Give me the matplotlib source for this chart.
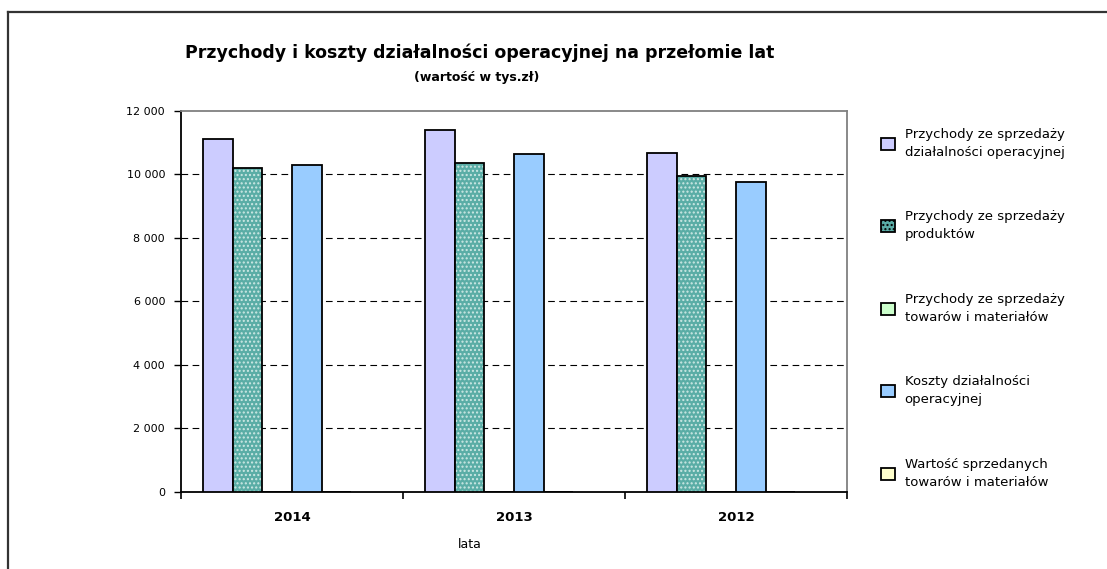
import matplotlib
matplotlib.use("Agg")
import matplotlib.pyplot as plt
from matplotlib.lines import Line2D
from matplotlib.patches import Patch
import numpy as np

plt.rcParams["font.family"] = ["DejaVu Sans"]
plt.rcParams["hatch.linewidth"] = 1.0

## Data (tys. zl)
years = ["2014", "2013", "2012"]
series_names = [
    "Przychody ze sprzedaży\ndziałalności operacyjnej",
    "Przychody ze sprzedaży\nproduktów",
    "Przychody ze sprzedaży\ntowarów i materiałów",
    "Koszty działalności\noperacyjnej",
    "Wartość sprzedanych\ntowarów i materiałów",
]
przychody_operacyjne = [11100, 11390, 10650]
przychody_produkty = [10190, 10360, 9950]
przychody_towary = [0, 0, 0]
koszty_operacyjne = [10280, 10620, 9740]
wartosc_towarow = [0, 0, 0]
yticks = [0, 2000, 4000, 6000, 8000, 10000, 12000]
ytick_labels = ["0", "2 000", "4 000", "6 000", "8 000", "10 000", "12 000"]

series = [przychody_operacyjne, przychody_produkty, przychody_towary,
          koszty_operacyjne, wartosc_towarow]
colours = ["#CCCCFF", "#5AADA6", "#CCFFCC", "#99CCFF", "#FFFFCC"]

fig = plt.figure(figsize=(11.07, 5.69), dpi=100)
ax = fig.add_axes([0.1635, 0.1362, 0.6016, 0.6694])

x = np.arange(len(years))
n_slots = 6
gap = 0.1
width = (1 - 2 * gap) / n_slots

for i, (vals, col) in enumerate(zip(series, colours)):
    pos = x - 0.5 + gap + (i + 0.5) * width
    if i == 1:
        # dotted fill like the excel pattern
        ax.bar(pos, vals, width, color=col, edgecolor="#CDE8E4", hatch="....", linewidth=0, zorder=3)
        ax.bar(pos, vals, width, fill=False, edgecolor="black", linewidth=1.3, zorder=4)
    else:
        ax.bar(pos, vals, width, color=col, edgecolor="black", linewidth=1.3, zorder=3)

ax.set_xlim(-0.5, 2.5)
ax.set_ylim(0, 12000)
ax.set_yticks(yticks)
ax.set_yticklabels(ytick_labels, fontsize=8)
ax.set_xticks(x)
ax.set_xticklabels(years, fontsize=9.5, fontweight="bold")
ax.tick_params(axis="x", length=0, pad=14)
ax.set_xticks(np.arange(len(years) + 1) - 0.5, minor=True)
ax.tick_params(axis="x", which="minor", length=5, width=1.2, direction="out")
ax.tick_params(axis="y", length=5, width=1.0, direction="out", pad=6.5)

for yv in yticks[1:-1]:
    ax.axhline(yv, color="black", linestyle=(0, (6, 4)), linewidth=0.8, zorder=1)

ax.spines["left"].set_linewidth(1.3)
ax.spines["bottom"].set_linewidth(1.3)
ax.spines["top"].set_color("#808080")
ax.spines["right"].set_color("#808080")
ax.spines["top"].set_linewidth(1.3)
ax.spines["right"].set_linewidth(1.3)

fig.text(470 / 1107, 1 - 545 / 569, "lata", fontsize=9, ha="center", va="center")

fig.text(480 / 1107, 1 - 53 / 569, "Przychody i koszty działalności operacyjnej na przełomie lat",
         fontsize=12.5, fontweight="bold", ha="center", va="center")
fig.text(477 / 1107, 1 - 78 / 569, "(wartość w tys.zł)",
         fontsize=9, fontweight="bold", ha="center", va="center")

handles = []
for i, col in enumerate(colours):
    if i == 1:
        handles.append(Patch(facecolor=col, edgecolor="black", hatch="....", linewidth=1.3))
    else:
        handles.append(Patch(facecolor=col, edgecolor="black", linewidth=1.3))
leg = fig.legend(handles, series_names, loc="upper left", bbox_to_anchor=(869 / 1107, 1 - 116 / 569),
                 frameon=False, fontsize=9.5, handlelength=1.1, handleheight=1.0, handletextpad=0.7,
                 labelspacing=3.9)
for t in leg.get_texts():
    t.set_linespacing(1.5)

## outer frame (only left and top edges are visible in the crop)
fig.add_artist(Line2D([8 / 1107, 8 / 1107], [0, 1 - 12 / 569], transform=fig.transFigure,
                      color="#333333", linewidth=1.6))
fig.add_artist(Line2D([8 / 1107, 1], [1 - 12 / 569, 1 - 12 / 569], transform=fig.transFigure,
                      color="#333333", linewidth=1.6))

fig.savefig("out.png", dpi=100)
